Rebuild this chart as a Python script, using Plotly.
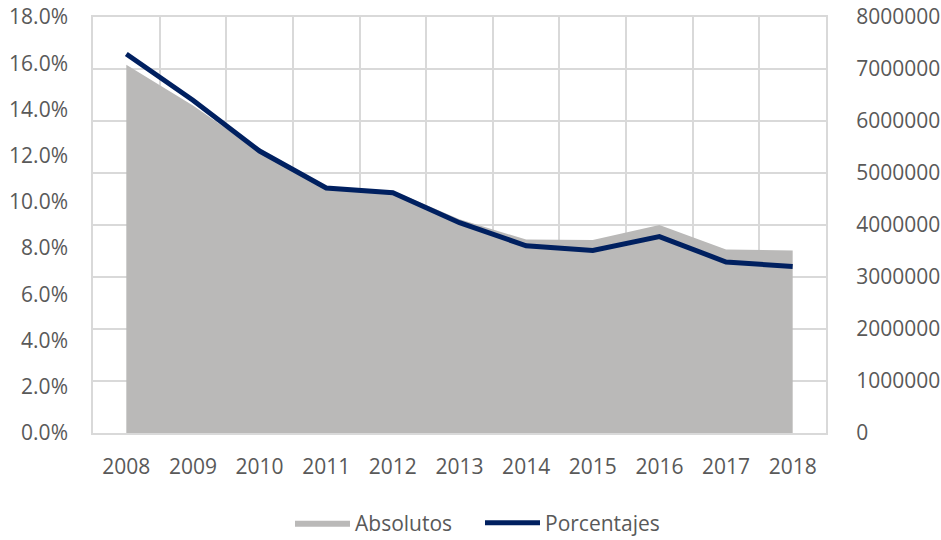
import plotly.graph_objects as go

years = ["2008", "2009", "2010", "2011", "2012", "2013", "2014", "2015", "2016", "2017", "2018"]
absolutos = [7080000, 6300000, 5410000, 4690000, 4660000, 4110000, 3720000, 3710000, 4000000, 3530000, 3510000]
porcentajes = [0.164, 0.144, 0.122, 0.106, 0.104, 0.091, 0.081, 0.079, 0.085, 0.074, 0.072]

pct_ticks = [i * 0.02 for i in range(10)]
abs_ticks = [i * 1000000 for i in range(9)]

FONT = "Open Sans"
TXT = "#595959"
GRID = "#d9d9d9"

fig = go.Figure()
fig.add_trace(go.Scatter(
    x=years, y=absolutos, name="Absolutos", mode="lines",
    line=dict(width=0, color="#bab9b8"), fill="tozeroy", fillcolor="#bab9b8",
    yaxis="y", hoverinfo="skip",
))
fig.add_trace(go.Scatter(
    x=years, y=porcentajes, name="Porcentajes", mode="lines",
    line=dict(width=5, color="#002060"), yaxis="y2",
))

fig.update_layout(
    width=941, height=540,
    margin=dict(l=93, r=115, t=17, b=107, autoexpand=False),
    paper_bgcolor="white", plot_bgcolor="white",
    font=dict(family=FONT, size=21, color=TXT),
    xaxis=dict(
        type="category", range=[-0.5, 10.5], tickson="boundaries",
        showgrid=True, gridcolor=GRID, gridwidth=2,
        showline=True, linecolor=GRID, linewidth=2, mirror=True,
        ticks="", ticklabelstandoff=14, zeroline=False, automargin=False,
    ),
    yaxis=dict(
        side="right", range=[0, 8000000], tickvals=abs_ticks,
        ticktext=[str(v) for v in abs_ticks],
        showgrid=True, gridcolor=GRID, gridwidth=2,
        showline=True, linecolor=GRID, linewidth=2, mirror=True,
        zeroline=False, ticks="", ticklabelstandoff=24, automargin=False,
    ),
    yaxis2=dict(
        side="left", overlaying="y", range=[0, 0.18], tickvals=pct_ticks,
        tickformat=".1%", showgrid=False, zeroline=False, ticks="",
        ticklabelstandoff=24, automargin=False,
    ),
    legend=dict(
        orientation="h", xanchor="left", x=(290 - 93) / 733,
        y=(433 - 523) / 416, yanchor="middle", entrywidth=120,
        itemwidth=55, font=dict(size=21, color=TXT), traceorder="normal",
    ),
    showlegend=True,
)
fig.write_html(
    "out.html",
    config={"displayModeBar": False},
    post_script="document.body.style.margin='0px';document.body.style.overflow='hidden';",
)
